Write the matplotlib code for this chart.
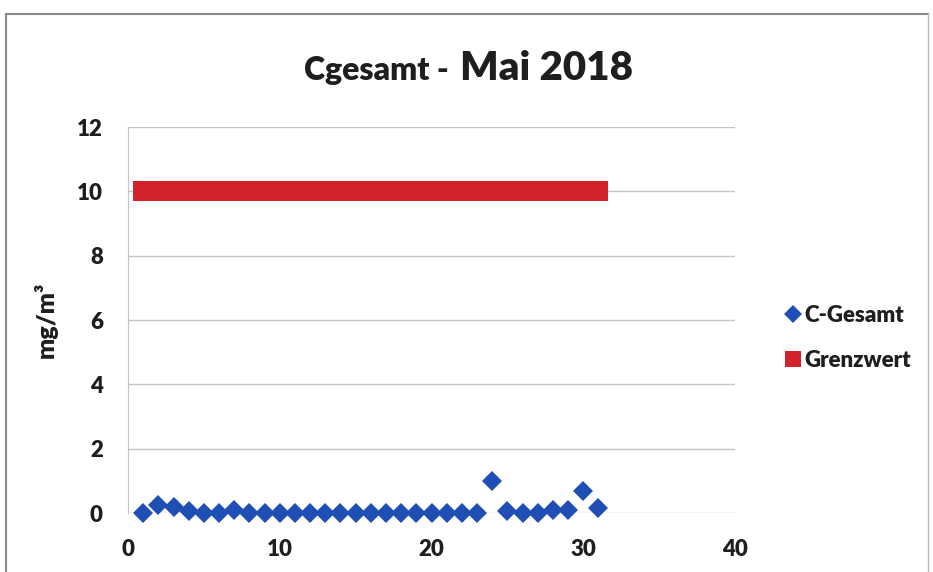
import matplotlib.pyplot as plt
import matplotlib.lines as mlines
from matplotlib import font_manager as fm

# Messwerte Mai 2018
tage = list(range(1, 32))
c_gesamt = [0.0, 0.25, 0.2, 0.05, 0.0, 0.0, 0.1, 0.0, 0.0, 0.0,
            0.0, 0.0, 0.0, 0.0, 0.0, 0.0, 0.0, 0.0, 0.0, 0.0,
            0.0, 0.0, 0.0, 1.0, 0.05, 0.0, 0.0, 0.1, 0.1, 0.68,
            0.15]
grenzwert = [10] * 31

x_ticks = [0, 10, 20, 30, 40]
y_ticks = [0, 2, 4, 6, 8, 10, 12]

blau = '#1f4fb4'
rot = '#d3222a'
schrift = '#1e1e1e'

plt.rcParams['font.family'] = ['Lato', 'DejaVu Sans']

# feste Schriftdatei fuer den Titel
titel_datei = fm.findfont(fm.FontProperties(family='Lato', weight='heavy'))

W, H = 933, 572
fig = plt.figure(figsize=(W / 100, H / 100), dpi=100)

# aeusserer Rahmen
fig.add_artist(plt.Line2D([6 / W, 6 / W], [0, 1 - 14 / H], transform=fig.transFigure,
                          color='#8a8a8a', lw=1.5))
fig.add_artist(plt.Line2D([6 / W, 928 / W], [1 - 14 / H, 1 - 14 / H], transform=fig.transFigure,
                          color='#8a8a8a', lw=1.5))
fig.add_artist(plt.Line2D([928 / W, 928 / W], [0, 1 - 14 / H], transform=fig.transFigure,
                          color='#bbbbbb', lw=1))

ax = fig.add_axes([128 / W, 1 - 513 / H, (735 - 128) / W, (513 - 127) / H])

ax.plot(tage, grenzwert, linestyle='none', marker='s', markersize=14.5,
        color=rot, markeredgewidth=0, label='Grenzwert', zorder=3)
ax.plot(tage, c_gesamt, linestyle='none', marker='D', markersize=10,
        color=blau, markeredgewidth=0, label='C-Gesamt', zorder=4, clip_on=False)

ax.set_xlim(0, 40)
ax.set_ylim(0, 12)
ax.set_xticks(x_ticks)
ax.set_yticks(y_ticks)
ax.set_xticklabels([str(v) for v in x_ticks], fontsize=16, fontweight='heavy', color=schrift)
ax.set_yticklabels([str(v) for v in y_ticks], fontsize=16, fontweight='heavy', color=schrift)
ax.tick_params(axis='x', length=0, pad=19)
ax.tick_params(axis='y', length=0, pad=18)

ax.grid(axis='y', color='#c4c4c4', lw=1)
ax.set_axisbelow(True)
for s in ['top', 'right', 'bottom']:
    ax.spines[s].set_visible(False)
ax.spines['left'].set_color('#c4c4c4')

ax.set_ylabel('mg/m³', fontsize=18, fontweight='heavy', color=schrift, labelpad=14)

# Titel
fig.text(304 / W, 1 - 80 / H, 'Cgesamt -', color=schrift, ha='left', va='baseline',
         fontproperties=fm.FontProperties(fname=titel_datei, size=23))
fig.text(460 / W, 1 - 80 / H, 'Mai 2018', color=schrift, ha='left', va='baseline',
         fontproperties=fm.FontProperties(fname=titel_datei, size=29))

# Legende
h_c = mlines.Line2D([], [], linestyle='none', marker='D', markersize=9, color=blau, markeredgewidth=0)
h_g = mlines.Line2D([], [], linestyle='none', marker='s', markersize=12, color=rot, markeredgewidth=0)
leg = fig.legend([h_c, h_g], ['C-Gesamt', 'Grenzwert'], loc='center left',
                 bbox_to_anchor=(765 / W, 1 - 338 / H), frameon=False, fontsize=16,
                 handlelength=0.7, handletextpad=0.15, labelspacing=1.1)
for t in leg.get_texts():
    t.set_fontweight('heavy')
    t.set_color(schrift)

fig.savefig('out.png', dpi=100)
